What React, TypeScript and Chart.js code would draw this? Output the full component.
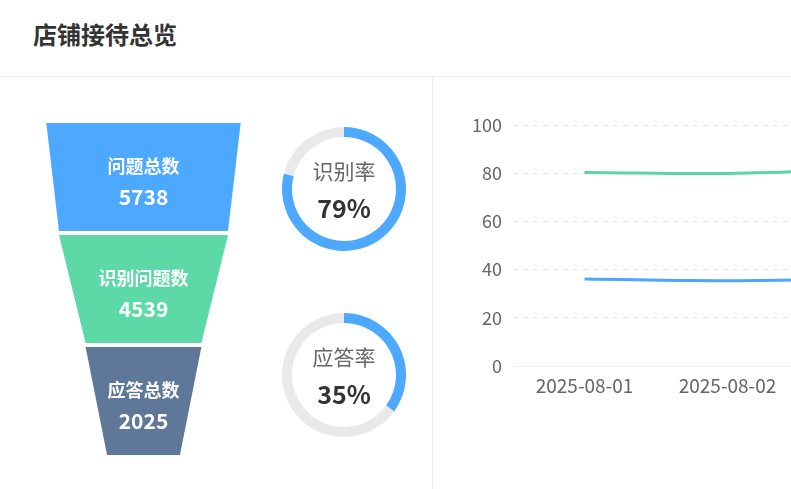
import { useEffect, useRef } from 'react';
import Chart from 'chart.js/auto';
import type { Plugin } from 'chart.js';

// funnel
const funnelLabels = ['问题总数', '识别问题数', '应答总数'];
const funnelValues = [5738, 4539, 2025];
const funnelColors = ['#4da8ff', '#5cd9a6', '#5f7799'];

// rate rings
const rateLabels = ['识别率', '应答率'];
const rateValues = [79, 35];

// trend lines
const dates = ['2025-08-01', '2025-08-02', '2025-08-03'];
const recognizeRate = [80.3, 79.9, 81.6];
const answerRate = [36.1, 35.4, 36.3];
const yTicks = [0, 20, 40, 60, 80, 100];

const FONT = '"Noto Sans CJK SC", "Noto Sans", sans-serif';

// funnel widths like echarts minSize / maxSize (fraction of the canvas width)
const MIN_SIZE = 0.3;
const MAX_SIZE = 0.8;
const funnelMax = Math.max(...funnelValues);
const halfSize = (v: number) => MIN_SIZE + ((MAX_SIZE - MIN_SIZE) * v) / funnelMax;

const funnelPlugin: Plugin<'bar'> = {
  id: 'funnelShapes',
  afterDatasetsDraw(chart) {
    const { ctx } = chart;
    const xs = chart.scales.x;
    const cx = xs.getPixelForValue(0);
    const meta = chart.getDatasetMeta(0);
    meta.data.forEach((el: any, i: number) => {
      const top = el.y - el.height / 2;
      const bottom = el.y + el.height / 2;
      const next = i + 1 < funnelValues.length ? funnelValues[i + 1] : 0;
      const wTop = xs.getPixelForValue(halfSize(funnelValues[i])) - cx;
      const wBot = xs.getPixelForValue(halfSize(next)) - cx;
      ctx.save();
      ctx.fillStyle = funnelColors[i];
      ctx.beginPath();
      ctx.moveTo(cx - wTop, top);
      ctx.lineTo(cx + wTop, top);
      ctx.lineTo(cx + wBot, bottom);
      ctx.lineTo(cx - wBot, bottom);
      ctx.closePath();
      ctx.fill();

      ctx.fillStyle = '#ffffff';
      ctx.textAlign = 'center';
      ctx.textBaseline = 'middle';
      ctx.font = `bold 18px ${FONT}`;
      ctx.fillText(funnelLabels[i], cx, el.y - 11);
      ctx.font = `bold 21px ${FONT}`;
      ctx.fillText(String(funnelValues[i]), cx, el.y + 20);
      ctx.restore();
    });
  },
};

function FunnelChart() {
  const canvasRef = useRef<HTMLCanvasElement | null>(null);

  useEffect(() => {
    if (!canvasRef.current) return;
    const chart = new Chart(canvasRef.current, {
      type: 'bar',
      data: {
        labels: funnelLabels,
        datasets: [
          {
            data: funnelValues.map(v => [-halfSize(v), halfSize(v)]) as any,
            backgroundColor: 'rgba(0,0,0,0)',
            borderWidth: 0,
            barPercentage: 108 / 112,
            categoryPercentage: 1,
          },
        ],
      },
      options: {
        indexAxis: 'y',
        responsive: false,
        animation: false,
        events: [],
        layout: { padding: 0 },
        plugins: { legend: { display: false }, tooltip: { enabled: false } },
        scales: {
          x: { display: false, min: -1, max: 1 },
          y: { display: false },
        },
      },
      plugins: [funnelPlugin],
    });
    return () => chart.destroy();
  }, []);

  return (
    <canvas
      ref={canvasRef}
      width={243}
      height={336}
      style={{ position: 'absolute', left: 22, top: 121, width: 243, height: 336 }}
    />
  );
}

function RateRing({ index, top }: { index: number; top: number }) {
  const canvasRef = useRef<HTMLCanvasElement | null>(null);

  useEffect(() => {
    if (!canvasRef.current) return;
    const centerText: Plugin<'doughnut'> = {
      id: 'ringText',
      afterDraw(chart) {
        const { ctx, chartArea } = chart;
        const x = (chartArea.left + chartArea.right) / 2;
        const y = (chartArea.top + chartArea.bottom) / 2;
        ctx.save();
        ctx.textAlign = 'center';
        ctx.textBaseline = 'middle';
        ctx.fillStyle = '#666666';
        ctx.font = `21px ${FONT}`;
        ctx.fillText(rateLabels[index], x, y - 18);
        ctx.fillStyle = '#333333';
        ctx.font = `bold 25px ${FONT}`;
        ctx.fillText(`${rateValues[index]}%`, x, y + 19);
        ctx.restore();
      },
    };
    const chart = new Chart(canvasRef.current, {
      type: 'doughnut',
      data: {
        labels: [rateLabels[index], ''],
        datasets: [
          {
            data: [rateValues[index], 100 - rateValues[index]],
            backgroundColor: ['#4da8ff', '#e9e9e9'],
            borderWidth: 0,
            hoverOffset: 0,
          },
        ],
      },
      options: {
        responsive: false,
        animation: false,
        events: [],
        cutout: 52,
        layout: { padding: 0 },
        plugins: { legend: { display: false }, tooltip: { enabled: false } },
      },
      plugins: [centerText],
    });
    return () => chart.destroy();
  }, [index]);

  return (
    <canvas
      ref={canvasRef}
      width={124}
      height={124}
      style={{ position: 'absolute', left: 282, top, width: 124, height: 124 }}
    />
  );
}

function TrendChart() {
  const canvasRef = useRef<HTMLCanvasElement | null>(null);

  useEffect(() => {
    if (!canvasRef.current) return;
    const chart = new Chart(canvasRef.current, {
      type: 'line',
      data: {
        labels: dates,
        datasets: [
          {
            label: '识别率',
            data: recognizeRate,
            borderColor: '#5bd6a2',
            borderWidth: 3,
            pointRadius: 0,
            tension: 0.4,
            fill: false,
          },
          {
            label: '应答率',
            data: answerRate,
            borderColor: '#4aa6ff',
            borderWidth: 3,
            pointRadius: 0,
            tension: 0.4,
            fill: false,
          },
        ],
      },
      options: {
        responsive: false,
        animation: false,
        events: [],
        layout: { padding: { top: 47, right: 0, bottom: 0, left: 0 } },
        plugins: { legend: { display: false }, tooltip: { enabled: false } },
        scales: {
          x: {
            offset: true,
            grid: { display: false },
            border: { display: true, color: '#eeeeee', width: 1 },
            ticks: {
              color: '#666666',
              font: { family: FONT, size: 19 },
              padding: 0,
              autoSkip: false,
              maxRotation: 0,
            },
            afterFit: (scale: any) => {
              scale.height = 123;
            },
          },
          y: {
            min: 0,
            max: 100,
            afterBuildTicks: (scale: any) => {
              scale.ticks = yTicks.map(v => ({ value: v }));
            },
            grid: {
              drawTicks: false,
              color: (c: any) => (c.tick && c.tick.value === 0 ? 'rgba(0,0,0,0)' : '#e4e4e4'),
            },
            // Chart.js 4 takes the grid line dash from border.dash
            border: { display: false, dash: [5, 5] },
            ticks: {
              color: '#666666',
              font: { family: FONT, size: 18 },
              padding: 11,
            },
            afterFit: (scale: any) => {
              scale.width = 80;
            },
          },
        },
      },
    });
    return () => chart.destroy();
  }, []);

  return (
    <canvas
      ref={canvasRef}
      width={509}
      height={411}
      style={{ position: 'absolute', left: 433, top: 78, width: 509, height: 411 }}
    />
  );
}

export default function App() {
  return (
    <div
      style={{
        position: 'absolute',
        left: 0,
        top: 0,
        width: 791,
        height: 489,
        overflow: 'hidden',
        background: '#ffffff',
        fontFamily: FONT,
      }}
    >
      <div
        style={{
          position: 'absolute',
          left: 33,
          top: 22,
          fontSize: 24,
          lineHeight: '24px',
          fontWeight: 'bold',
          color: '#333333',
          whiteSpace: 'nowrap',
        }}
      >
        店铺接待总览
      </div>
      <div style={{ position: 'absolute', left: 0, top: 76, width: 791, height: 1, background: '#eeeeee' }} />
      <div style={{ position: 'absolute', left: 432, top: 77, width: 1, height: 412, background: '#eeeeee' }} />
      <FunnelChart />
      <RateRing index={0} top={127} />
      <RateRing index={1} top={313} />
      <TrendChart />
    </div>
  );
}
